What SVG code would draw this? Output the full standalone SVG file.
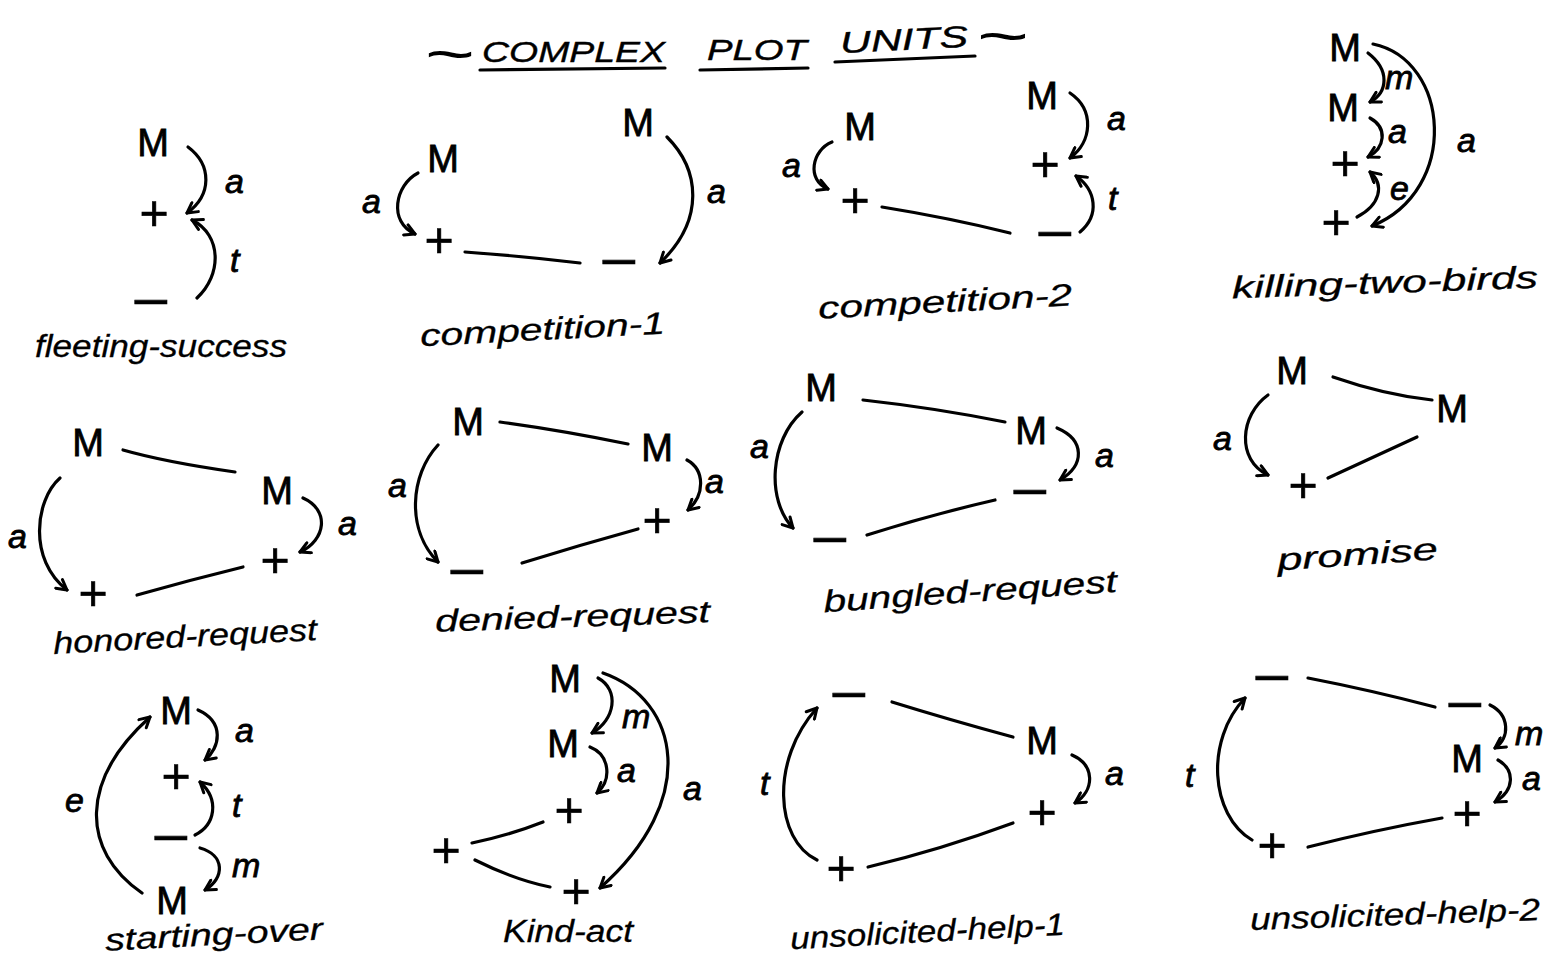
<svg xmlns="http://www.w3.org/2000/svg" width="1554" height="955" viewBox="0 0 1554 955">
<defs>
<style>
text{font-family:"Liberation Sans",Arial,sans-serif;fill:#000;stroke:#000;stroke-width:0.8}
.M{font-size:38px;text-anchor:middle}
.p{font-size:50px;text-anchor:middle;stroke-width:0.6}
.d{font-size:58px;text-anchor:middle;stroke-width:0.6}
.lk{font-size:34px;font-style:italic}
.nm{font-size:31px;font-style:italic;stroke-width:0.3}
.ti{font-size:30px;font-style:italic;stroke-width:0.4}
.tl{font-size:60px;stroke-width:0}
.c{fill:none;stroke:#000;stroke-width:3.2;stroke-linecap:round}
</style>
<marker id="ah" viewBox="0 0 14 14" refX="12" refY="7" markerWidth="14" markerHeight="14" orient="auto" markerUnits="userSpaceOnUse">
<path d="M2,1.5 L12,7 L2,12.5" fill="none" stroke="#000" stroke-width="3" stroke-linecap="round" stroke-linejoin="round"/>
</marker>
</defs>
<rect width="1554" height="955" fill="#fff"/>

<g id="title">
<text class="tl" x="425" y="74" textLength="50" lengthAdjust="spacingAndGlyphs">~</text>
<text class="ti" x="482" y="62" textLength="183" lengthAdjust="spacingAndGlyphs">COMPLEX</text>
<text class="ti" x="707" y="60" textLength="100" lengthAdjust="spacingAndGlyphs">PLOT</text>
<text class="ti" x="840" y="50" textLength="128" lengthAdjust="spacingAndGlyphs" transform="rotate(-3 900 40)">UNITS</text>
<text class="tl" x="977" y="56" textLength="52" lengthAdjust="spacingAndGlyphs">~</text>
<path class="c" d="M480,70 L665,68"/>
<path class="c" d="M700,70 L808,68"/>
<path class="c" d="M835,62 L975,56"/>
</g>

<g id="nodes">
<g id="fs-m"><text class="M" x="153" y="156" font-size="42">M</text></g>
<g id="fs-plus"><text class="p" x="154" y="230">+</text></g>
<g id="fs-minus"><text class="d" x="151" y="317">–</text></g>

<g id="c1-m1"><text class="M" x="443" y="172">M</text></g>
<g id="c1-m2"><text class="M" x="638" y="136">M</text></g>
<g id="c1-plus"><text class="p" x="439" y="257">+</text></g>
<g id="c1-minus"><text class="d" x="619" y="277">–</text></g>

<g id="c2-m1"><text class="M" x="860" y="140">M</text></g>
<g id="c2-m2"><text class="M" x="1042" y="109">M</text></g>
<g id="c2-plus1"><text class="p" x="855" y="217">+</text></g>
<g id="c2-plus2"><text class="p" x="1045" y="181">+</text></g>
<g id="c2-minus"><text class="d" x="1055" y="249">–</text></g>

<g id="ktb-m1"><text class="M" x="1345" y="61">M</text></g>
<g id="ktb-m2"><text class="M" x="1343" y="121">M</text></g>
<g id="ktb-plus1"><text class="p" x="1345" y="180">+</text></g>
<g id="ktb-plus2"><text class="p" x="1336" y="239">+</text></g>

<g id="hr-m1"><text class="M" x="88" y="456">M</text></g>
<g id="hr-m2"><text class="M" x="277" y="504">M</text></g>
<g id="hr-plus1"><text class="p" x="93" y="610">+</text></g>
<g id="hr-plus2"><text class="p" x="275" y="577">+</text></g>

<g id="dr-m1"><text class="M" x="468" y="435">M</text></g>
<g id="dr-m2"><text class="M" x="657" y="461">M</text></g>
<g id="dr-minus"><text class="d" x="467" y="587">–</text></g>
<g id="dr-plus"><text class="p" x="657" y="537">+</text></g>

<g id="br-m1"><text class="M" x="821" y="401">M</text></g>
<g id="br-m2"><text class="M" x="1031" y="444">M</text></g>
<g id="br-minus1"><text class="d" x="830" y="555">–</text></g>
<g id="br-minus2"><text class="d" x="1030" y="507">–</text></g>

<g id="pr-m1"><text class="M" x="1292" y="384" font-size="34">M</text></g>
<g id="pr-m2"><text class="M" x="1452" y="422" font-size="34">M</text></g>
<g id="pr-plus"><text class="p" x="1303" y="502">+</text></g>

<g id="so-m1"><text class="M" x="176" y="724">M</text></g>
<g id="so-plus"><text class="p" x="176" y="793">+</text></g>
<g id="so-minus"><text class="d" x="171" y="853">–</text></g>
<g id="so-m2"><text class="M" x="172" y="914">M</text></g>

<g id="ka-m1"><text class="M" x="565" y="692">M</text></g>
<g id="ka-m2"><text class="M" x="563" y="757">M</text></g>
<g id="ka-plus1"><text class="p" x="569" y="827">+</text></g>
<g id="ka-plus2"><text class="p" x="446" y="867">+</text></g>
<g id="ka-plus3"><text class="p" x="576" y="908">+</text></g>

<g id="uh1-minus"><text class="d" x="849" y="710">–</text></g>
<g id="uh1-m"><text class="M" x="1042" y="754">M</text></g>
<g id="uh1-plus1"><text class="p" x="1042" y="829">+</text></g>
<g id="uh1-plus2"><text class="p" x="841" y="885">+</text></g>

<g id="uh2-minus1"><text class="d" x="1272" y="693">–</text></g>
<g id="uh2-minus2"><text class="d" x="1465" y="720">–</text></g>
<g id="uh2-m"><text class="M" x="1467" y="772">M</text></g>
<g id="uh2-plus1"><text class="p" x="1467" y="830">+</text></g>
<g id="uh2-plus2"><text class="p" x="1272" y="862">+</text></g>
</g>

<g id="connectors">
<path class="c" marker-end="url(#ah)" d="M188,147 C212,165 212,195 187,213"/>
<text class="lk" x="225" y="193">a</text>
<path class="c" marker-end="url(#ah)" d="M197,298 C222,275 222,235 192,220"/>
<text class="lk" x="230" y="272">t</text>

<path class="c" marker-end="url(#ah)" d="M418,173 C395,185 388,222 415,234"/>
<text class="lk" x="362" y="213">a</text>
<path class="c" d="M465,252 Q520,256 580,263"/>
<path class="c" marker-end="url(#ah)" d="M667,137 C700,170 705,220 660,263"/>
<text class="lk" x="707" y="203" font-size="26">a</text>

<path class="c" marker-end="url(#ah)" d="M832,142 C812,150 806,180 828,189"/>
<text class="lk" x="782" y="177" font-size="30">a</text>
<path class="c" d="M882,207 Q950,218 1010,233"/>
<path class="c" marker-end="url(#ah)" d="M1070,93 C1095,110 1092,142 1070,158"/>
<text class="lk" x="1107" y="130" font-size="30">a</text>
<path class="c" marker-end="url(#ah)" d="M1080,232 C1100,215 1096,190 1076,176"/>
<text class="lk" x="1108" y="210" font-size="30">t</text>

<path class="c" marker-end="url(#ah)" d="M1368,53 C1390,70 1388,92 1370,102"/>
<text class="lk" x="1385" y="89" font-size="22">m</text>
<path class="c" marker-end="url(#ah)" d="M1373,44 C1450,60 1460,190 1372,226"/>
<text class="lk" x="1457" y="152" font-size="38">a</text>
<path class="c" marker-end="url(#ah)" d="M1370,118 C1388,128 1385,148 1368,157"/>
<text class="lk" x="1388" y="143" font-size="30">a</text>
<path class="c" marker-end="url(#ah)" d="M1357,217 C1380,205 1385,185 1370,172"/>
<text class="lk" x="1390" y="200" font-size="30">e</text>

<path class="c" d="M123,450 Q165,462 235,472"/>
<path class="c" marker-end="url(#ah)" d="M60,478 C35,500 28,560 67,590"/>
<text class="lk" x="8" y="548">a</text>
<path class="c" d="M137,595 Q190,580 243,567"/>
<path class="c" marker-end="url(#ah)" d="M303,498 C330,510 326,540 300,552"/>
<text class="lk" x="338" y="535">a</text>

<path class="c" d="M500,422 Q560,430 628,444"/>
<path class="c" marker-end="url(#ah)" d="M438,445 C410,475 406,530 438,562"/>
<text class="lk" x="388" y="497" font-size="24">a</text>
<path class="c" d="M522,563 Q580,545 638,529"/>
<path class="c" marker-end="url(#ah)" d="M687,460 C705,470 705,495 688,510"/>
<text class="lk" x="705" y="493" font-size="28">a</text>

<path class="c" d="M863,400 Q935,408 1005,422"/>
<path class="c" marker-end="url(#ah)" d="M802,412 C770,440 766,500 793,528"/>
<text class="lk" x="750" y="458" font-size="28">a</text>
<path class="c" d="M867,535 Q930,515 995,500"/>
<path class="c" marker-end="url(#ah)" d="M1057,428 C1085,440 1085,465 1060,480"/>
<text class="lk" x="1095" y="467" font-size="30">a</text>

<path class="c" d="M1333,377 Q1385,395 1432,400"/>
<path class="c" marker-end="url(#ah)" d="M1268,395 C1240,415 1236,460 1268,475"/>
<text class="lk" x="1213" y="450">a</text>
<path class="c" d="M1328,478 L1417,437"/>

<path class="c" marker-end="url(#ah)" d="M198,710 C225,722 220,748 205,760"/>
<text class="lk" x="235" y="742">a</text>
<path class="c" marker-end="url(#ah)" d="M195,835 C215,825 220,800 200,782"/>
<text class="lk" x="232" y="817">t</text>
<path class="c" marker-end="url(#ah)" d="M200,848 C225,855 225,878 205,890"/>
<text class="lk" x="232" y="877" font-size="30">m</text>
<path class="c" marker-end="url(#ah)" d="M142,893 C80,850 80,780 150,717"/>
<text class="lk" x="65" y="812">e</text>

<path class="c" marker-end="url(#ah)" d="M598,678 C620,690 615,720 592,733"/>
<text class="lk" x="622" y="728" font-size="24">m</text>
<path class="c" marker-end="url(#ah)" d="M603,673 C680,700 700,800 600,888"/>
<text class="lk" x="683" y="800" font-size="36">a</text>
<path class="c" marker-end="url(#ah)" d="M590,747 C610,755 612,780 597,793"/>
<text class="lk" x="617" y="782" font-size="24">a</text>
<path class="c" d="M472,843 Q510,835 543,822"/>
<path class="c" d="M475,860 Q515,880 550,887"/>

<path class="c" d="M892,702 Q950,720 1013,737"/>
<path class="c" marker-end="url(#ah)" d="M1072,755 C1095,765 1095,790 1075,803"/>
<text class="lk" x="1105" y="785">a</text>
<path class="c" d="M868,867 Q940,850 1013,823"/>
<path class="c" marker-end="url(#ah)" d="M817,860 C775,840 770,760 817,708"/>
<text class="lk" x="760" y="795" font-size="30">t</text>

<path class="c" d="M1308,678 Q1370,690 1435,707"/>
<path class="c" marker-end="url(#ah)" d="M1490,705 C1510,715 1510,738 1495,748"/>
<text class="lk" x="1515" y="745" font-size="22">m</text>
<path class="c" marker-end="url(#ah)" d="M1498,760 C1515,770 1515,790 1495,802"/>
<text class="lk" x="1522" y="790" font-size="28">a</text>
<path class="c" d="M1308,847 Q1375,830 1442,818"/>
<path class="c" marker-end="url(#ah)" d="M1252,840 C1210,815 1205,740 1245,698"/>
<text class="lk" x="1185" y="787" font-size="30">t</text>
</g>

<g id="unit-names">
<text class="nm" x="35" y="357" textLength="252" lengthAdjust="spacingAndGlyphs">fleeting-success</text>
<text class="nm" x="420" y="340" textLength="245" lengthAdjust="spacingAndGlyphs" transform="rotate(-3 540 330)">competition-1</text>
<text class="nm" x="818" y="312" textLength="254" lengthAdjust="spacingAndGlyphs" transform="rotate(-3 945 300)">competition-2</text>
<text class="nm" x="1232" y="293" textLength="306" lengthAdjust="spacingAndGlyphs" transform="rotate(-2 1385 285)">killing-two-birds</text>
<text class="nm" x="53" y="647" textLength="264" lengthAdjust="spacingAndGlyphs" transform="rotate(-3 185 635)">honored-request</text>
<text class="nm" x="435" y="627" textLength="275" lengthAdjust="spacingAndGlyphs" transform="rotate(-2 572 615)">denied-request</text>
<text class="nm" x="823" y="602" textLength="294" lengthAdjust="spacingAndGlyphs" transform="rotate(-4 970 590)">bungled-request</text>
<text class="nm" x="1277" y="565" textLength="161" lengthAdjust="spacingAndGlyphs" transform="rotate(-4 1357 555)">promise</text>
<text class="nm" x="105" y="945" textLength="218" lengthAdjust="spacingAndGlyphs" font-size="26" transform="rotate(-3 214 935)">starting-over</text>
<text class="nm" x="503" y="942" textLength="130" lengthAdjust="spacingAndGlyphs" font-size="25">Kind-act</text>
<text class="nm" x="790" y="942" textLength="275" lengthAdjust="spacingAndGlyphs" font-size="30" transform="rotate(-3 927 932)">unsolicited-help-1</text>
<text class="nm" x="1250" y="925" textLength="290" lengthAdjust="spacingAndGlyphs" transform="rotate(-2 1395 915)">unsolicited-help-2</text>
</g>
</svg>
